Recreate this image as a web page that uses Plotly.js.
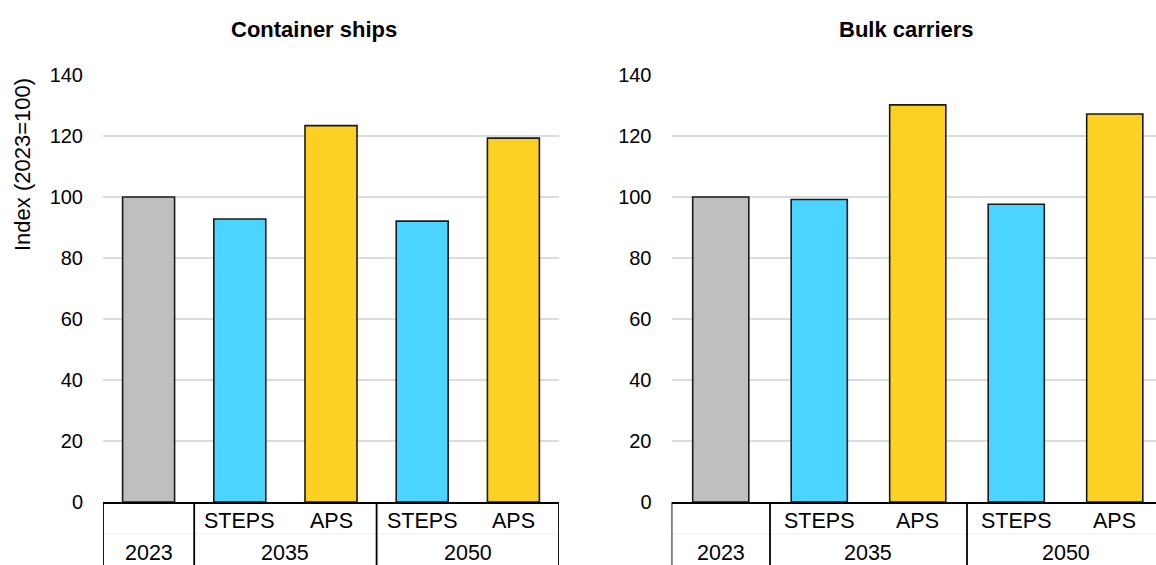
<!DOCTYPE html>
<html>
<head>
<meta charset="utf-8">
<script src="https://cdn.plot.ly/plotly-3.0.1.min.js"></script>
<style>
html, body { margin: 0; padding: 0; overflow: hidden; background: #fff; }
#chart { width: 1164px; height: 565px; }
</style>
</head>
<body>
<div id="chart"></div>
<script>
// Data
const outerLabels = ["2023", "2035", "2035", "2050", "2050"];
const innerLabels = ["", "STEPS", "APS", "STEPS", "APS"];
const containerShips = [100, 92.8, 123.4, 92.1, 119.3];
const bulkCarriers = [100, 99.2, 130.2, 97.6, 127.2];
const barColors = ["#BFBFBF", "#4BD4FF", "#FDD123", "#4BD4FF", "#FDD123"];
const panelTitles = ["Container ships", "Bulk carriers"];
const yTitle = "Index (2023=100)";
const yTicks = [0, 20, 40, 60, 80, 100, 120, 140];

// unique category keys built from the two label levels
const catKeys = outerLabels.map((o, i) => o + "|" + innerLabels[i]);

const W = 1164, H = 565, T = 75, B = 63;
const plotH = H - T - B;
const px = v => v / W;
const py = v => (H - B - v) / plotH;
const FONT = "Liberation Sans, Arial, sans-serif";

function barTrace(vals, xa, ya) {
  return {
    type: "bar",
    x: catKeys,
    y: vals,
    xaxis: xa, yaxis: ya,
    marker: { color: barColors, line: { color: "#1a1a1a", width: 1.6 } },
    width: 0.57,
    hoverinfo: "skip",
    showlegend: false
  };
}

const xCommon = {
  type: "category",
  categoryorder: "array",
  categoryarray: catKeys,
  range: [-0.5, catKeys.length - 0.5],
  showticklabels: false,
  showline: true,
  linecolor: "#000",
  linewidth: 2,
  ticks: "",
  showgrid: false,
  zeroline: false,
  automargin: false,
  fixedrange: true
};
const yCommon = {
  range: [0, 140],
  tickvals: yTicks,
  ticktext: yTicks.map(String),
  showgrid: true,
  gridcolor: "#DCDCDC",
  gridwidth: 2,
  zeroline: false,
  showline: false,
  ticks: "",
  ticklabelstandoff: 19,
  tickfont: { family: FONT, size: 20, color: "#000" },
  automargin: false,
  fixedrange: true
};

// category-axis labels (two levels), dividers
const annotations = [];
const shapes = [];
[["x", "y"], ["x2", "y2"]].forEach(([xr]) => {
  innerLabels.forEach((lab, i) => {
    if (lab) annotations.push({ text: lab, xref: xr, yref: "paper", x: i, y: py(521),
      xanchor: "center", yanchor: "middle", showarrow: false,
      font: { family: FONT, size: 21.5, color: "#000" } });
  });
  const groups = [];
  outerLabels.forEach((lab, i) => {
    const g = groups[groups.length - 1];
    if (g && g.label === lab) g.end = i; else groups.push({ label: lab, start: i, end: i });
  });
  groups.forEach(g => {
    annotations.push({ text: g.label, xref: xr, yref: "paper", x: (g.start + g.end) / 2, y: py(552.5),
      xanchor: "center", yanchor: "middle", showarrow: false,
      font: { family: FONT, size: 21.5, color: "#000" } });
  });
  const bounds = [groups[0].start - 0.5].concat(groups.map(g => g.end + 0.5));
  bounds.forEach(b => {
    shapes.push({ type: "line", xref: xr, yref: "paper", x0: b, x1: b, y0: 0, y1: py(580),
      line: { color: "#000", width: 1.8 } });
  });
  shapes.push({ type: "line", xref: xr, yref: "paper", x0: bounds[0], x1: bounds[bounds.length - 1],
    y0: py(534), y1: py(534), line: { color: "#EEEEEE", width: 1 }, layer: "below" });
});

annotations.push(
  { text: "<b>" + panelTitles[0] + "</b>", xref: "paper", yref: "paper", x: px(313.5), y: py(29),
    xanchor: "center", yanchor: "middle", showarrow: false, font: { family: FONT, size: 22, color: "#000" } },
  { text: "<b>" + panelTitles[1] + "</b>", xref: "paper", yref: "paper", x: px(906.5), y: py(29),
    xanchor: "center", yanchor: "middle", showarrow: false, font: { family: FONT, size: 22, color: "#000" } },
  { text: yTitle, xref: "paper", yref: "paper", x: px(22), y: py(165), textangle: -90,
    xanchor: "center", yanchor: "middle", showarrow: false, font: { family: FONT, size: 22, color: "#000" } }
);

const layout = {
  width: W, height: H,
  margin: { l: 0, r: 0, t: T, b: B, pad: 0 },
  paper_bgcolor: "#fff",
  plot_bgcolor: "#fff",
  font: { family: FONT, color: "#000" },
  xaxis: Object.assign({}, xCommon, { domain: [px(103), px(559)], anchor: "y" }),
  xaxis2: Object.assign({}, xCommon, { domain: [px(671.5), 1], anchor: "y2" }),
  yaxis: Object.assign({}, yCommon, { domain: [0, 1], anchor: "x" }),
  yaxis2: Object.assign({}, yCommon, { domain: [0, 1], anchor: "x2" }),
  annotations: annotations,
  shapes: shapes
};

Plotly.newPlot("chart", [
  barTrace(containerShips, "x", "y"),
  barTrace(bulkCarriers, "x2", "y2")
], layout, { displayModeBar: false, staticPlot: true });
</script>
</body>
</html>
